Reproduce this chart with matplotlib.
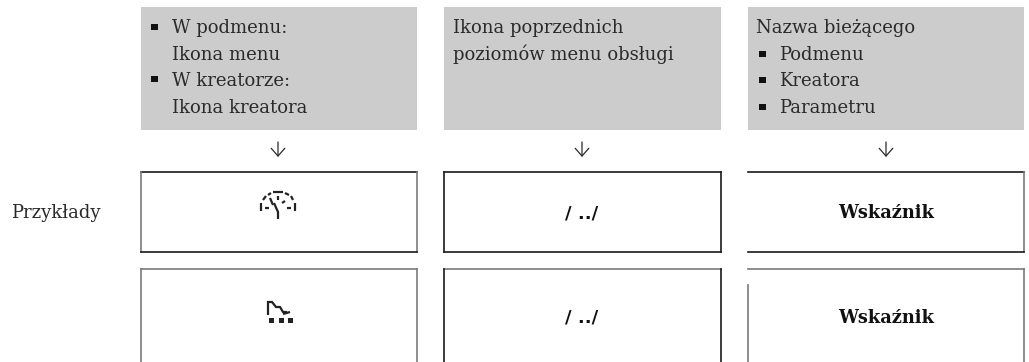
import matplotlib
matplotlib.use("Agg")
import matplotlib.pyplot as plt
from matplotlib.patches import Rectangle

W, H = 1029, 362
FONT = 'DejaVu Serif'
TEXT = '#2a2a2a'
DARK = '#1a1a1a'
GREY = '#7a7a7a'
FILL = '#cccccc'

# columns (left, right)
columns = [(141, 417), (444, 721), (748, 1024)]
centers = [278, 582, 886]

# (x, baseline, text) header boxes
header_lines = [
    (172, 33, 'W podmenu:'), (172, 60, 'Ikona menu'),
    (172, 86, 'W kreatorze:'), (172, 113, 'Ikona kreatora'),
    (453, 33, 'Ikona poprzednich'), (453, 60, 'poziomów menu obsługi'),
    (756, 33, 'Nazwa bieżącego'), (779, 60, 'Podmenu'),
    (779, 86, 'Kreatora'), (779, 113, 'Parametru'),
]
bullets = [(154, 27), (154, 79), (762, 54), (762, 80), (762, 107)]

row_label = 'Przykłady'
sample_text = ['/ ../', 'Wskaźnik']
row_baselines = [218, 323]

# outline pieces of the example boxes: x0, y0, x1, y1, colour
edges = [
    (141, 172, 417, 172, DARK), (141, 172, 141, 252, GREY), (417, 172, 417, 252, GREY), (141, 252, 417, 252, DARK),
    (444, 172, 721, 172, DARK), (444, 172, 444, 252, DARK), (721, 172, 721, 252, DARK), (444, 252, 721, 252, DARK),
    (748, 172, 1024, 172, DARK), (1024, 172, 1024, 252, GREY), (748, 252, 1024, 252, DARK),
    (141, 269, 417, 269, GREY), (141, 269, 141, 362, GREY), (417, 269, 417, 362, GREY),
    (444, 269, 721, 269, GREY), (444, 269, 444, 362, DARK), (721, 269, 721, 362, DARK),
    (748, 269, 1024, 269, GREY), (748, 285, 748, 362, GREY), (1024, 269, 1024, 362, GREY),
]

# icons
gauge = [
    [(261, 211), (261, 203)], [(263, 200), (266, 196)], [(268, 195), (271, 193)], [(273, 192), (283, 192)],
    [(285, 193), (289, 195)], [(291, 196), (293, 200)], [(295, 203), (295, 211)],
    [(265, 208), (269, 208)], [(287, 208), (291, 208)],
    [(270, 198), (273, 205)], [(278, 196), (278, 200)], [(282, 203), (285, 201)],
    [(274, 203), (278, 212), (278, 219)],
]
ramp = [[(268, 315), (268, 302), (272, 302), (276, 307), (280, 307), (283, 312), (287, 312)], [(283, 314), (290, 312)]]
dots = [(271, 320), (281, 320), (290, 320)]

fig = plt.figure(figsize=(W / 100, H / 100), dpi=100)
ax = fig.add_axes([0, 0, 1, 1])
ax.set_xlim(0, W)
ax.set_ylim(H, 0)
ax.axis('off')

for left, right in columns:
    ax.add_patch(Rectangle((left, 7), right - left, 123, fc=FILL, ec='none'))

for x, y, s in header_lines:
    ax.text(x, y, s, family=FONT, fontsize=13, color=TEXT, va='baseline')
for x, y in bullets:
    ax.add_patch(Rectangle((x - 3.5, y - 3), 7, 6, fc='#111111', ec='none'))

for x in centers:
    ax.annotate('', xy=(x, 157), xytext=(x, 142),
                arrowprops=dict(arrowstyle='->,head_length=0.4,head_width=0.35', color=TEXT, lw=0.9,
                                shrinkA=0, shrinkB=0, mutation_scale=14))

for x0, y0, x1, y1, c in edges:
    ax.plot([x0, x1], [y0, y1], color=c, lw=1.2, solid_capstyle='projecting')

ax.text(11, row_baselines[0], row_label, family=FONT, fontsize=13, color=TEXT, va='baseline')
for y in row_baselines:
    ax.text(centers[1], y, sample_text[0], family='DejaVu Sans', fontsize=13, weight='bold', color='#111111', ha='center', va='baseline')
    ax.text(centers[2], y, sample_text[1], family=FONT, fontsize=12.8, weight='bold', color='#111111', ha='center', va='baseline')

for part in gauge + ramp:
    ax.plot([p[0] for p in part], [p[1] for p in part], color='#222222', lw=1.6, solid_joinstyle='miter', solid_capstyle='butt')
for x, y in dots:
    ax.add_patch(Rectangle((x - 2.5, y - 2.5), 5, 5, fc='#222222', ec='none'))

fig.savefig('out.png', dpi=100)
